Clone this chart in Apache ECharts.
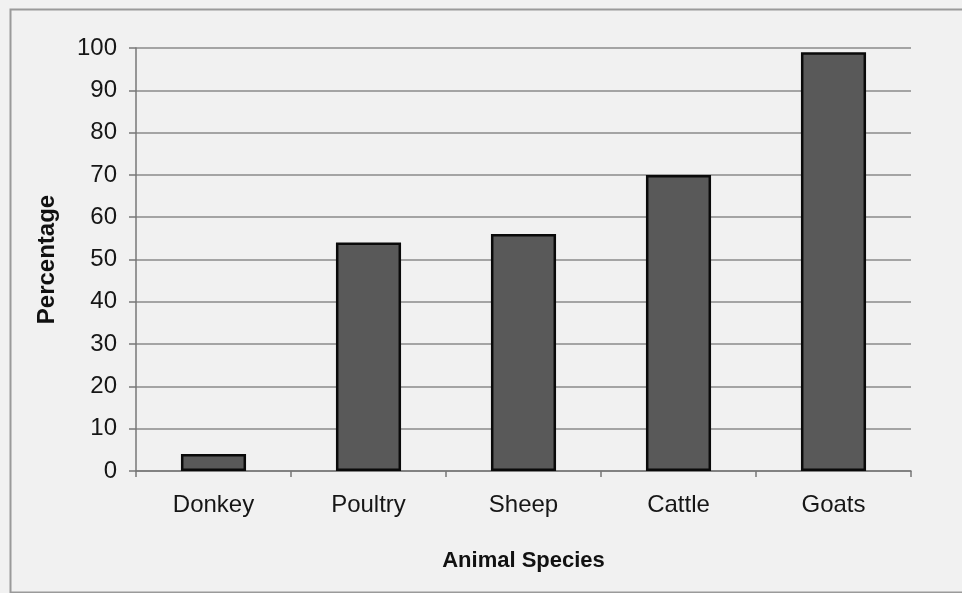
<!DOCTYPE html>
<html>
<head>
<meta charset="utf-8">
<script src="https://cdn.jsdelivr.net/npm/echarts@6/dist/echarts.min.js"></script>
<style>html,body{margin:0;padding:0;background:#f1f1f1;}#c{width:962px;height:593px;}</style>
</head>
<body>
<div id="c"></div>
<script>
var categories = ['Donkey', 'Poultry', 'Sheep', 'Cattle', 'Goats'];
var percentages = [4, 54, 56, 70, 99];
var yTicks = [0, 10, 20, 30, 40, 50, 60, 70, 80, 90, 100];

var chart = echarts.init(document.getElementById('c'));
chart.setOption({
  backgroundColor: '#f1f1f1',
  animation: false,
  graphic: [{
    type: 'rect', left: 8, top: 7, shape: {width: 962, height: 583},
    style: {fill: 'none', stroke: '#9a9a9a', lineWidth: 2}, silent: true
  }],
  grid: {left: 136, right: 51, top: 48, bottom: 122},
  xAxis: {
    type: 'category', data: categories,
    name: 'Animal Species', nameLocation: 'middle', nameGap: 79,
    nameTextStyle: {fontFamily: 'Liberation Sans', fontSize: 22, fontWeight: 'bold', color: '#111'},
    axisLine: {lineStyle: {color: '#777', width: 1.5}},
    axisTick: {show: true, alignWithLabel: false, length: 6, lineStyle: {color: '#777', width: 1.5}},
    axisLabel: {fontFamily: 'Liberation Sans', fontSize: 24, color: '#161616', margin: 22}
  },
  yAxis: {
    type: 'value', min: yTicks[0], max: yTicks[yTicks.length - 1], interval: 10,
    name: 'Percentage', nameLocation: 'middle', nameGap: 77, nameRotate: 90,
    nameTextStyle: {fontFamily: 'Liberation Sans', fontSize: 24, fontWeight: 'bold', color: '#111'},
    axisLine: {show: true, lineStyle: {color: '#777', width: 1.5}},
    axisTick: {show: true, length: 7, lineStyle: {color: '#777', width: 1.5}},
    axisLabel: {fontFamily: 'Liberation Sans', fontSize: 24, color: '#161616', margin: 19},
    splitLine: {lineStyle: {color: '#8a8a8a', width: 1.5}}
  },
  series: [{
    type: 'bar', data: percentages, barWidth: '42%',
    itemStyle: {color: '#595959', borderColor: '#0a0a0a', borderWidth: 2.5}
  }]
});
</script>
</body>
</html>
